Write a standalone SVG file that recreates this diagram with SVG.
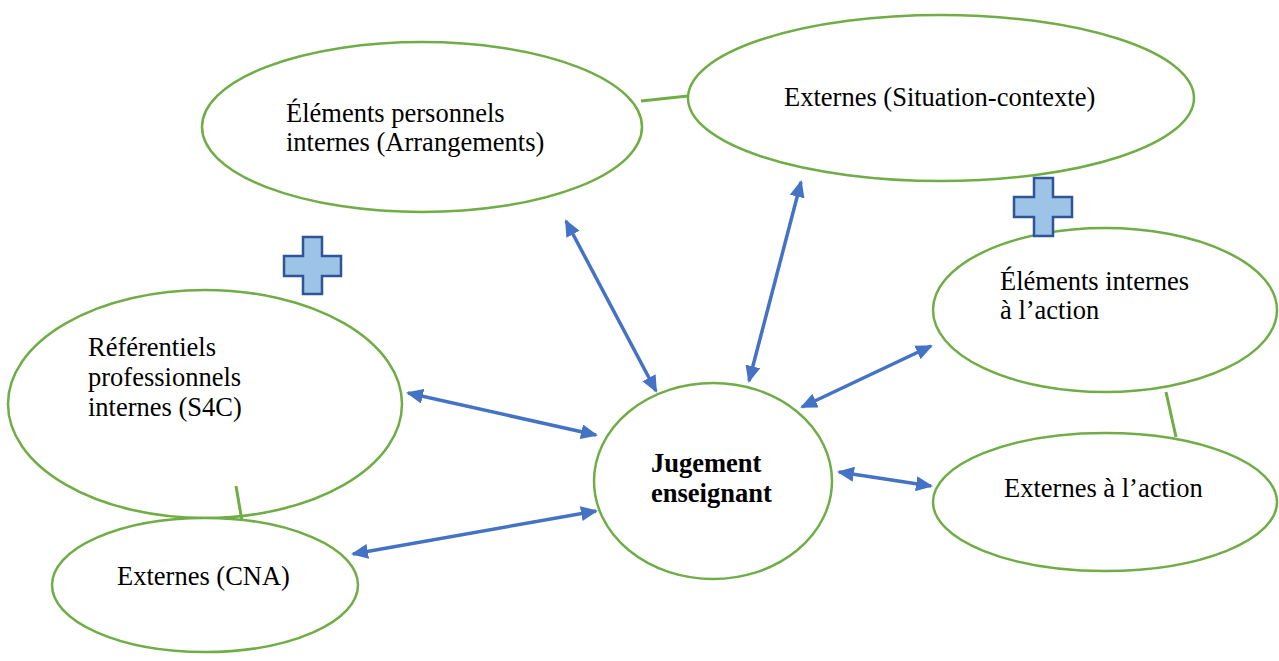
<svg xmlns="http://www.w3.org/2000/svg" width="1279" height="661" viewBox="0 0 1279 661">
<style>
.node{fill:#fff;stroke:#70AD47;stroke-width:2.5}
.link{stroke:#70AD47;stroke-width:3;fill:none}
.arr{stroke:#4472C4;stroke-width:3.5;fill:none;marker-start:url(#ah);marker-end:url(#ah)}
.plus{fill:#9DC3E6;stroke:#2F5597;stroke-width:2.5}
text{font-family:"Liberation Serif","Times New Roman",serif;font-size:26.5px;fill:#000}
.b{font-weight:bold}
</style>
<defs>
<marker id="ah" viewBox="0 0 17 15" refX="15" refY="7.5" markerWidth="17" markerHeight="15" markerUnits="userSpaceOnUse" orient="auto-start-reverse">
<path d="M0,0 L17,7.5 L0,15 z" fill="#4472C4"/>
</marker>
</defs>
<rect width="1279" height="661" fill="#fff"/>
<g id="n-personnels">
<ellipse class="node" cx="422" cy="127" rx="220" ry="85"/>
<text x="286" y="122">Éléments personnels</text>
<text x="286" y="151">internes (Arrangements)</text>
</g>
<g id="n-situation">
<ellipse class="node" cx="941" cy="98" rx="253" ry="83"/>
<text x="784" y="106">Externes (Situation-contexte)</text>
</g>
<g id="n-internes-action">
<ellipse class="node" cx="1105" cy="310" rx="172" ry="82"/>
<text x="1000" y="290">Éléments internes</text>
<text x="1000" y="319">à l’action</text>
</g>
<g id="n-externes-action">
<ellipse class="node" cx="1105" cy="502" rx="172" ry="69"/>
<text x="1004" y="497">Externes à l’action</text>
</g>
<g id="n-jugement">
<ellipse class="node" cx="713" cy="481" rx="119" ry="98"/>
<text class="b" x="651" y="472">Jugement</text>
<text class="b" x="651" y="502">enseignant</text>
</g>
<g id="n-referentiels">
<ellipse class="node" cx="205" cy="404" rx="197" ry="114"/>
<text x="88" y="356">Référentiels</text>
<text x="88" y="386">professionnels</text>
<text x="88" y="416">internes (S4C)</text>
</g>
<g id="n-cna">
<ellipse class="node" cx="205" cy="585" rx="153" ry="67"/>
<text x="117" y="585">Externes (CNA)</text>
</g>
<g id="connectors">
<line class="link" x1="641" y1="101" x2="688" y2="96"/>
<line class="link" x1="1166" y1="392" x2="1176" y2="437"/>
<line class="link" x1="236" y1="486" x2="242" y2="521"/>
<line class="arr" x1="566" y1="221" x2="656" y2="391"/>
<line class="arr" x1="801" y1="182" x2="749" y2="381"/>
<line class="arr" x1="931" y1="346" x2="802" y2="407"/>
<line class="arr" x1="839" y1="472" x2="931" y2="486"/>
<line class="arr" x1="408" y1="393" x2="596" y2="435"/>
<line class="arr" x1="353" y1="554" x2="596" y2="511"/>
</g>
<g id="plus-left">
<path class="plus" d="M303,237 H322 V256 H341 V276 H322 V294 H303 V276 H284 V256 H303 Z"/>
</g>
<g id="plus-right">
<path class="plus" d="M1034,178 H1053 V197 H1072 V217 H1053 V236 H1034 V217 H1014 V197 H1034 Z"/>
</g>
</svg>
